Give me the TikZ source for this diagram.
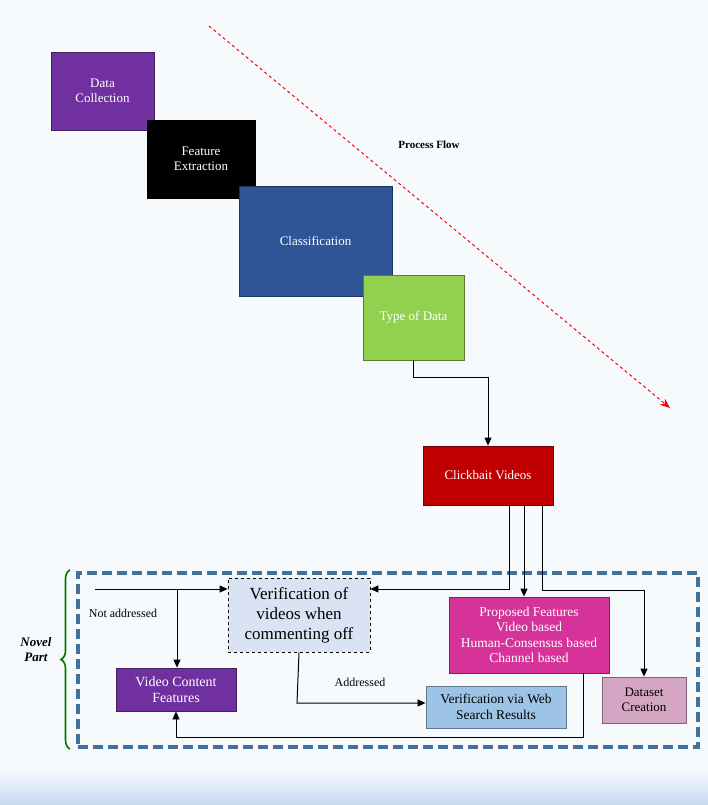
\documentclass[tikz,border=0pt]{standalone}
\usepackage{fontspec}
\setmainfont{Liberation Serif}
\usetikzlibrary{arrows.meta,decorations.pathreplacing}
\definecolor{bg}{HTML}{F7FAFD}
\definecolor{pur}{HTML}{7030A0}
\definecolor{blu}{HTML}{2F5597}
\definecolor{grn}{HTML}{92D050}
\definecolor{dred}{HTML}{C00000}
\definecolor{mag}{HTML}{D6339A}
\definecolor{pnk}{HTML}{D5A6C4}
\definecolor{lblu}{HTML}{9DC3E6}
\definecolor{vbg}{HTML}{DAE3F3}
\definecolor{dash}{HTML}{41719C}
\definecolor{sh}{HTML}{C5D9F0}
\begin{document}
\begin{tikzpicture}[x=1pt,y=-1pt,
 box/.style={draw=#1!60!black,fill=#1,line width=0.8pt,align=center,font=\fontsize{13}{15}\selectfont,inner sep=2pt},
 wbox/.style={box=#1,text=white},
 arr/.style={-{Triangle[length=8pt,width=7pt]},line width=1pt}]
\useasboundingbox (0,0) rectangle (708,805);
\fill[bg] (0,0) rectangle (708,805);
\shade[top color=bg,bottom color=sh] (0,770) rectangle (708,805);
% process boxes
\node[wbox=pur,minimum width=103pt,minimum height=78pt] (dc) at (102.5,91) {Data\\Collection};
\node[wbox=black,minimum width=108pt,minimum height=78pt] (fe) at (201,159) {Feature\\Extraction};
\node[wbox=blu,minimum width=153pt,minimum height=110pt] (cl) at (315.5,241) {Classification};
\node[wbox=grn,minimum width=101pt,minimum height=85pt] (td) at (413.5,317.5) {Type of Data};
\coordinate (fs) at (209,26); \coordinate (fe2) at (670,408);
\draw[red,dashed,line width=1pt,-{Stealth[length=10pt,width=8pt]}] (fs) -- (fe2);
\node[font=\bfseries\fontsize{11}{13}\selectfont] (pf) at (429,145) {Process Flow};
\node[wbox=dred,minimum width=130pt,minimum height=59pt] (cb) at (488,475.5) {Clickbait Videos};
\draw[arr] (td.south) -- ++(0,17) -| (cb.north);
% novel part
\node[draw=dash,line width=3.5pt,dash pattern=on 10pt off 5pt,minimum width=620pt,minimum height=174pt] (np) at (388,660) {};
\draw[green!45!black,line width=1.6pt,decorate,decoration={brace,amplitude=9pt}] (70,749) -- (70,570);
\node[font=\bfseries\itshape\fontsize{13}{15}\selectfont,align=center] (npl) at (36,650) {Novel\\Part};
\node[box=vbg,draw=black,dashed,minimum width=142pt,minimum height=74pt,font=\fontsize{17}{20}\selectfont] (vf) at (299,615) {Verification of\\videos when\\commenting off};
\node[wbox=mag,minimum width=160pt,minimum height=76pt,font=\fontsize{13.5}{15.5}\selectfont] (pr) at (529,635) {Proposed Features\\Video based\\Human-Consensus based\\Channel based};
\node[box=pnk,minimum width=84pt,minimum height=46pt] (ds) at (644,700) {Dataset\\Creation};
\node[wbox=pur,minimum width=120pt,minimum height=43pt,font=\fontsize{14}{16}\selectfont] (vc) at (176,689.5) {Video Content\\Features};
\node[box=lblu,minimum width=140pt,minimum height=42pt,font=\fontsize{13.5}{15.5}\selectfont] (ws) at (496,707) {Verification via Web\\Search Results};
\draw[arr] (cb.south-|509,0) -- (509,589) -- (vf.east|-0,589);
\draw[arr] (cb.south-|524,0) -- (pr.north-|524,0);
\draw[arr] (cb.south-|542,0) -- (542,590) -| (ds.north);
\coordinate (na) at (95,589);
\draw[arr] (na) -- (vf.west|-0,589);
\draw[arr] (177,589) -- (vc.north-|177,0);
\node[font=\fontsize{12}{14}\selectfont] (nal) at (123,613) {Not addressed};
\draw[arr] (vf.south) -- (297,703) -- (ws.west|-0,703);
\node[font=\fontsize{12}{14}\selectfont] (adl) at (360,682) {Addressed};
\draw[arr,line width=0.7pt] (pr.south-|583,0) -- (583,737) -- (176,737) -- (vc.south-|176,0);
\end{tikzpicture}
\end{document}
